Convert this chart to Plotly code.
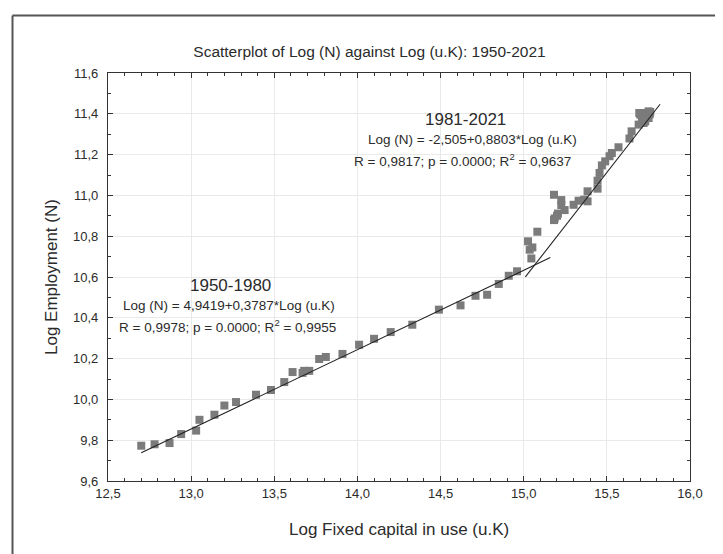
import numpy as np
import plotly.graph_objects as go

# ---- data ----
x_1950_1980 = [12.70, 12.78, 12.87, 12.94, 13.03, 13.05, 13.14, 13.20, 13.27, 13.39,
               13.48, 13.56, 13.61, 13.67, 13.68, 13.71, 13.77, 13.81, 13.91, 14.01,
               14.10, 14.20, 14.33, 14.49, 14.62, 14.71, 14.78, 14.85, 14.91, 14.96]
y_1950_1980 = [9.773, 9.780, 9.786, 9.830, 9.847, 9.900, 9.925, 9.970, 9.987, 10.023,
               10.046, 10.085, 10.134, 10.130, 10.140, 10.140, 10.198, 10.208, 10.223, 10.268,
               10.297, 10.330, 10.366, 10.440, 10.461, 10.508, 10.513, 10.566, 10.606, 10.628]

x_1981_2021 = [15.046, 15.036, 15.052, 15.026, 15.082, 15.182, 15.186, 15.206, 15.246, 15.226,
               15.226, 15.182, 15.200, 15.300, 15.330, 15.363, 15.384, 15.384, 15.444, 15.444,
               15.456, 15.470, 15.490, 15.516, 15.530, 15.570, 15.636, 15.649, 15.691, 15.711,
               15.721, 15.731, 15.751, 15.701, 15.695, 15.731, 15.751, 15.761, 15.745, 15.740,
               15.758]
y_1981_2021 = [10.691, 10.734, 10.745, 10.775, 10.822, 11.003, 10.887, 10.911, 10.928, 10.953,
               10.977, 10.879, 10.900, 10.954, 10.974, 10.979, 10.971, 11.020, 11.033, 11.072,
               11.110, 11.147, 11.167, 11.192, 11.208, 11.236, 11.279, 11.314, 11.347, 11.363,
               11.355, 11.363, 11.379, 11.396, 11.404, 11.404, 11.412, 11.409, 11.395, 11.385,
               11.398]

# fitted lines as drawn: [x_start, x_end], intercept, slope
fit_lower_range = [12.70, 15.16]
fit_lower_coef = [4.798, 0.389]
fit_upper_range = [15.01, 15.82]
fit_upper_coef = [-5.085, 1.045]

x_ticks = [12.5, 13.0, 13.5, 14.0, 14.5, 15.0, 15.5, 16.0]
y_ticks = [9.6, 9.8, 10.0, 10.2, 10.4, 10.6, 10.8, 11.0, 11.2, 11.4, 11.6]

title_text = "Scatterplot of Log (N) against Log (u.K): 1950-2021"
x_title = "Log Fixed capital in use (u.K)"
y_title = "Log Employment (N)"

FONT = "Liberation Sans, Arial, sans-serif"
TXT = "#2b2b2b"

fig = go.Figure()
marker = dict(symbol="square", size=8, color="#7b7b7b", line=dict(width=0))
fig.add_trace(go.Scatter(x=x_1950_1980, y=y_1950_1980, mode="markers", marker=marker,
                         showlegend=False, hoverinfo="x+y"))
fig.add_trace(go.Scatter(x=x_1981_2021, y=y_1981_2021, mode="markers", marker=marker,
                         showlegend=False, hoverinfo="x+y"))

for rng, coef in [(fit_lower_range, fit_lower_coef), (fit_upper_range, fit_upper_coef)]:
    xs = np.array(rng)
    ys = coef[0] + coef[1] * xs
    fig.add_trace(go.Scatter(x=xs, y=ys, mode="lines",
                             line=dict(color="#222222", width=1.1),
                             showlegend=False, hoverinfo="skip"))

axis_common = dict(
    showgrid=True, gridcolor="#e9e9e9", gridwidth=1,
    showline=True, linecolor="#333333", linewidth=1.2, mirror="ticks",
    ticks="inside", ticklen=5, tickcolor="#333333",
    zeroline=False,
    tickfont=dict(family=FONT, size=13, color=TXT),
)

fig.update_xaxes(range=[12.5, 16.0], tickvals=x_ticks,
                 ticktext=[f"{v:.1f}".replace(".", ",") for v in x_ticks],
                 minor=dict(dtick=0.1, ticks="inside", ticklen=3, tickcolor="#333333", showgrid=False),
                 **axis_common)
fig.update_yaxes(range=[9.6, 11.6], tickvals=y_ticks,
                 ticktext=[f"{v:.1f}".replace(".", ",") for v in y_ticks],
                 minor=dict(dtick=0.1, ticks="inside", ticklen=3, tickcolor="#333333", showgrid=False),
                 ticklabelstandoff=6,
                 **axis_common)

annots = [
    dict(x=14.647, y=11.370, text="1981-2021", size=17),
    dict(x=14.690, y=11.276, text="Log (N) = -2,505+0,8803*Log (u.K)", size=13.5),
    dict(x=14.629, y=11.174, text="R = 0,9817; p = 0.0000; R<sup>2</sup> = 0,9637", size=13.5),
    dict(x=13.234, y=10.556, text="1950-1980", size=17),
    dict(x=13.230, y=10.458, text="Log (N) = 4,9419+0,3787*Log (u.K)", size=13.5),
    dict(x=13.220, y=10.360, text="R = 0,9978; p = 0.0000; R<sup>2</sup> = 0,9955", size=13.5),
]
for a in annots:
    fig.add_annotation(x=a["x"], y=a["y"], xref="x", yref="y", text=a["text"],
                       showarrow=False, xanchor="center", yanchor="middle",
                       font=dict(family=FONT, size=a["size"], color=TXT))

# axis titles (placed in pixel-like paper coords)
L, R, T, B, W, H = 100, 41, 65, 81, 723, 554
pw, ph = W - L - R, H - T - B
fig.add_annotation(x=0.5, y=(473 - 521) / ph, xref="paper", yref="paper", text=x_title,
                   showarrow=False, xanchor="center", yanchor="middle",
                   font=dict(family=FONT, size=17, color=TXT))
fig.add_annotation(x=(43 - L) / pw, y=0.5, xref="paper", yref="paper", text=y_title,
                   showarrow=False, xanchor="center", yanchor="middle", textangle=-90,
                   font=dict(family=FONT, size=17, color=TXT))

# outer frame (left and top edges)
fx0 = (4.5 - L) / pw
fy_top = (473 - 7.5) / ph
fy_bot = (473 - 560) / ph
fx_right = (730 - L) / pw
fig.add_shape(type="line", xref="paper", yref="paper", x0=fx0, x1=fx0, y0=fy_bot, y1=fy_top,
              line=dict(color="#555555", width=2))
fig.add_shape(type="line", xref="paper", yref="paper", x0=fx0, x1=fx_right, y0=fy_top, y1=fy_top,
              line=dict(color="#555555", width=2))

fig.update_layout(
    width=W, height=H,
    margin=dict(l=L, r=R, t=T, b=B),
    paper_bgcolor="white", plot_bgcolor="white",
    title=dict(text=title_text, x=0.5, xref="container", xanchor="center",
               y=1 - 44 / H, yref="container", yanchor="middle",
               font=dict(family=FONT, size=15.5, color=TXT)),
    separators=",.",
)

fig.write_html("out.html")
